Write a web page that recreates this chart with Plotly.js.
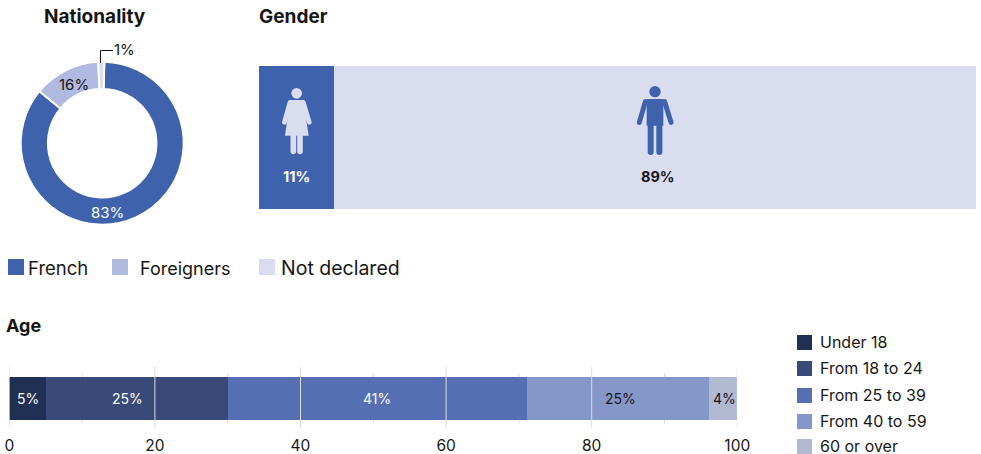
<!DOCTYPE html>
<html>
<head>
<meta charset="utf-8">
<script src="https://cdn.plot.ly/plotly-3.0.1.min.js"></script>
<style>html,body{margin:0;padding:0;background:#fff}</style>
</head>
<body>
<div id="chart" style="width:981px;height:454px"></div>
<script>
// Data. Printed labels and drawn proportions differ in the source.
const nationalityCategories = ['French', 'Foreigners', 'Not declared'];
const nationalityDrawn = [85.6, 13.2, 1.2];
const nationalityLabels = ['83%', '16%', '1%'];
const nationalityColors = ['#3e62ac', '#b0b9df', '#dadcf0'];

const genderCategories = ['Women', 'Men'];
const genderDrawn = [10.5, 89.5];
const genderLabels = ['11%', '89%'];
const genderColors = ['#3e62ac', '#dadcf0'];

const ageCategories = ['Under 18', 'From 18 to 24', 'From 25 to 39', 'From 40 to 59', '60 or over'];
const ageDrawn = [5.1, 25, 41.05, 25, 3.85];
const ageLabels = ['5%', '25%', '41%', '25%', '4%'];
const ageColors = ['#1f3054', '#3a4a78', '#566fb3', '#8497c8', '#b0b8d2'];
const ageMajorTicks = [0, 20, 40, 60, 80, 100];
const ageMinorTicks = [10, 30, 50, 70, 90];

const FONT = 'Inter, "Noto Sans", sans-serif';
const INK = '#161616';
const W = 981, H = 454;
const px = x => x / W;
const py = y => 1 - y / H;

const womanSvg = `<svg xmlns="http://www.w3.org/2000/svg" viewBox="90 95 100 205"><g fill="#dadcf0" stroke="#dadcf0"><circle cx="140" cy="115" r="16" stroke="none"/><path d="M120 135H160L176 242H105Z" stroke="none"/><path d="M120 142L103 202M160 142L178 202" stroke-width="14" stroke-linecap="round" fill="none"/><path d="M130 245V289M150 245V289" stroke-width="17" stroke-linecap="round" fill="none"/></g></svg>`;
const manSvg = `<svg xmlns="http://www.w3.org/2000/svg" viewBox="1155 90 120 215"><g fill="#3e62ac" stroke="#3e62ac"><circle cx="1215" cy="110" r="17" stroke="none"/><path d="M1190 132H1240V212H1190Z" stroke="none"/><path d="M1186 140L1168 202M1244 140L1263 202" stroke-width="15" stroke-linecap="round" fill="none"/><path d="M1202 205V291M1228 205V291" stroke-width="18" stroke-linecap="round" fill="none"/></g></svg>`;
const uri = s => 'data:image/svg+xml;base64,' + btoa(s);

const traces = [];
traces.push({
  type: 'pie', labels: nationalityCategories, values: nationalityDrawn, sort: false,
  direction: 'clockwise', rotation: 1.5, hole: 0.666, textinfo: 'none', showlegend: false,
  marker: {colors: nationalityColors, line: {color: '#fff', width: 2}},
  domain: {x: [px(20.7), px(183.7)], y: [py(224.7), py(61.7)]}, hoverinfo: 'skip'
});
genderCategories.forEach((c, i) => traces.push({
  type: 'bar', orientation: 'h', name: c, x: [genderDrawn[i]], y: [0], width: 1,
  xaxis: 'x', yaxis: 'y', marker: {color: genderColors[i], line: {width: 0}}, showlegend: false, hoverinfo: 'skip'
}));
ageCategories.forEach((c, i) => traces.push({
  type: 'bar', orientation: 'h', name: c, x: [ageDrawn[i]], y: [0], width: 1,
  xaxis: 'x2', yaxis: 'y2', marker: {color: ageColors[i], line: {width: 0}}, showlegend: false, hoverinfo: 'skip'
}));

const text = (t, x, y, o = {}) => ({
  text: t, xref: 'paper', yref: 'paper', x: px(x), y: py(y), showarrow: false,
  xanchor: o.anchor || 'center', yanchor: 'middle', xshift: o.anchor === 'left' ? -2 : 0,
  font: {family: FONT, size: o.size || 14, color: o.color || INK}
});
const annotations = [
  text('<b>Nationality</b>', 44, 16, {anchor: 'left', size: 19}),
  text('<b>Gender</b>', 259, 16, {anchor: 'left', size: 19}),
  text('<b>Age</b>', 6, 325, {anchor: 'left', size: 18}),
  text(nationalityLabels[0], 107, 212, {color: '#fff', size: 15}),
  text(nationalityLabels[1], 74, 84, {size: 15}),
  text(nationalityLabels[2], 125, 50, {size: 15}),
  text('<b>' + genderLabels[0] + '</b>', 296.5, 176, {color: '#fff', size: 14.5}),
  text('<b>' + genderLabels[1] + '</b>', 658, 176, {size: 14.5})
];
const ageLabelX = [28, 127, 377, 620, 724];
ageLabels.forEach((l, i) => annotations.push(text(l, ageLabelX[i], 398.5, {size: 14, color: (i < 3) ? '#fff' : INK})));

const shapes = [];
const square = (x, y, s, color) => shapes.push({
  type: 'rect', xref: 'paper', yref: 'paper', x0: px(x), x1: px(x + s), y0: py(y + s), y1: py(y),
  fillcolor: color, line: {width: 0}
});
const natLegendX = [[8, 28], [112, 140], [259, 281]];
const natLegendSize = [18.5, 18, 19.5];
nationalityCategories.forEach((c, i) => {
  square(natLegendX[i][0], 259, 16, nationalityColors[i]);
  annotations.push(text(c, natLegendX[i][1], 268, {anchor: 'left', size: natLegendSize[i]}));
});
const ageLegendY = [335, 361, 388, 414, 439];
ageCategories.forEach((c, i) => {
  square(797, ageLegendY[i], 15, ageColors[i]);
  annotations.push(text(c, 820, ageLegendY[i] + 6.5, {anchor: 'left', size: 16}));
});
// leader line of the 1% slice
shapes.push({type: 'path', xref: 'paper', yref: 'paper',
  path: `M${px(100.5)},${py(63)} L${px(100.5)},${py(50.5)} L${px(113)},${py(50.5)}`,
  line: {color: INK, width: 1}, fillcolor: 'rgba(0,0,0,0)'});
// age gridlines: short minor ones under the bar, tall major ones over it
ageMinorTicks.forEach(t => shapes.push({type: 'line', layer: 'below', xref: 'x2', yref: 'paper',
  x0: t, x1: t, y0: py(423.5), y1: py(373), line: {color: '#dcdcdc', width: 1}}));
ageMajorTicks.forEach(t => shapes.push({type: 'line', layer: 'above', xref: 'x2', yref: 'paper',
  x0: t, x1: t, y0: py(428), y1: py(367), line: {color: '#dcdcdc', width: 1}}));

const layout = {
  width: W, height: H, autosize: false, margin: {l: 0, r: 0, t: 0, b: 0},
  paper_bgcolor: '#fff', plot_bgcolor: 'rgba(0,0,0,0)', barmode: 'stack', bargap: 0,
  showlegend: false, hovermode: false,
  font: {family: FONT, color: INK},
  xaxis: {domain: [px(259), px(976)], range: [0, 100], visible: false, fixedrange: true},
  yaxis: {domain: [py(209), py(66)], range: [-0.5, 0.5], visible: false, fixedrange: true},
  xaxis2: {domain: [px(9.3), px(737.3)], range: [0, 100], anchor: 'y2', tickmode: 'array',
    tickvals: ageMajorTicks, ticktext: ageMajorTicks.map(String), showgrid: false, zeroline: false,
    showline: false, ticks: 'outside', ticklen: 3, tickcolor: 'rgba(0,0,0,0)',
    tickfont: {family: FONT, size: 15.5, color: INK}, fixedrange: true},
  yaxis2: {domain: [py(428), py(367)], range: [-0.686, 0.733], visible: false, fixedrange: true},
  annotations, shapes,
  images: [
    {source: uri(womanSvg), xref: 'paper', yref: 'paper', x: px(280), y: py(86.67),
     sizex: px(33.33), sizey: 68.33 / H, sizing: 'stretch', xanchor: 'left', yanchor: 'top', layer: 'above'},
    {source: uri(manSvg), xref: 'paper', yref: 'paper', x: px(635), y: py(85),
     sizex: px(40), sizey: 71.67 / H, sizing: 'stretch', xanchor: 'left', yanchor: 'top', layer: 'above'}
  ]
};
Plotly.newPlot('chart', traces, layout, {displayModeBar: false, staticPlot: true});
</script>
</body>
</html>
